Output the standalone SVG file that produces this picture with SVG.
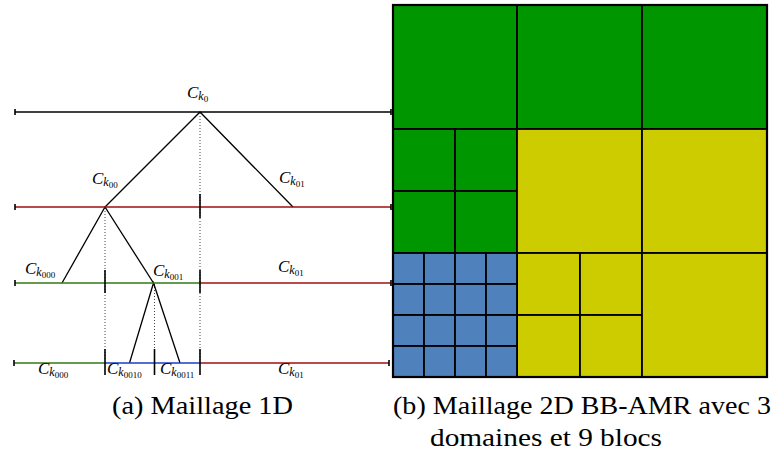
<svg xmlns="http://www.w3.org/2000/svg" width="772" height="457" viewBox="0 0 772 457">
<style>
.blk{stroke:#000;stroke-width:1.3;fill:none}
.red{stroke:#a30d0d;stroke-width:1.6;fill:none}
.grn{stroke:#337a14;stroke-width:1.6;fill:none}
.blu{stroke:#1a3fc8;stroke-width:1.6;fill:none}
.tick{stroke:#000;stroke-width:1.6}
.dot{stroke:#444;stroke-width:1;stroke-dasharray:1 2;fill:none}
.lbl{font-family:"Liberation Serif",serif;font-style:italic;font-size:17px;fill:#000}
.s1{font-size:12px}
.s2{font-size:9px;font-style:normal}
.cap{font-family:"Liberation Serif",serif;font-size:25px;fill:#000}
.cell{stroke:#000;stroke-width:1.8}
.g{fill:#009600}
.y{fill:#cccc00}
.b{fill:#4f81bd}
</style>

<g id="connectors">
  <line class="dot" x1="200" y1="113" x2="200" y2="360"/>
  <line class="dot" x1="105" y1="208" x2="105" y2="360"/>
  <line class="dot" x1="154.5" y1="284" x2="154.5" y2="360"/>
  <polyline class="blk" points="105,207 200,112 293,207"/>
  <polyline class="blk" points="62,283 105,207 153.5,283"/>
  <polyline class="blk" points="129.5,363 153.5,283 180,363"/>
</g>

<g id="row1">
  <line class="blk" x1="15" y1="112" x2="391" y2="112"/>
  <line class="tick" x1="15" y1="109" x2="15" y2="115"/>
  <line class="tick" x1="391" y1="109" x2="391" y2="115"/>
</g>
<g id="row2">
  <line class="red" x1="15" y1="207" x2="391" y2="207"/>
  <line class="tick" x1="15" y1="204" x2="15" y2="210"/>
  <line class="tick" x1="391" y1="204" x2="391" y2="210"/>
  <line class="tick" x1="200" y1="194" x2="200" y2="218"/>
</g>
<g id="row3">
  <line class="grn" x1="15" y1="283" x2="200" y2="283"/>
  <line class="red" x1="200" y1="283" x2="391" y2="283"/>
  <line class="tick" x1="15" y1="280" x2="15" y2="286"/>
  <line class="tick" x1="391" y1="280" x2="391" y2="286"/>
  <line class="tick" x1="105" y1="270" x2="105" y2="293"/>
  <line class="tick" x1="200" y1="270" x2="200" y2="293"/>
</g>
<g id="row4">
  <line class="grn" x1="14" y1="363" x2="105" y2="363"/>
  <line class="blu" x1="105" y1="363" x2="200" y2="363"/>
  <line class="red" x1="200" y1="363" x2="389" y2="363"/>
  <line class="tick" x1="14" y1="360" x2="14" y2="366"/>
  <line class="tick" x1="389" y1="360" x2="389" y2="366"/>
  <line class="tick" x1="105" y1="349" x2="105" y2="375"/>
  <line class="tick" x1="154.5" y1="349" x2="154.5" y2="375"/>
  <line class="tick" x1="200" y1="349" x2="200" y2="375"/>
</g>

<g id="labels">
  <text class="lbl" x="187" y="98">C<tspan class="s1" dy="2">k</tspan><tspan class="s2" dy="2">0</tspan></text>
  <text class="lbl" x="92" y="184">C<tspan class="s1" dy="2">k</tspan><tspan class="s2" dy="2">00</tspan></text>
  <text class="lbl" x="279" y="183">C<tspan class="s1" dy="2">k</tspan><tspan class="s2" dy="2">01</tspan></text>
  <text class="lbl" x="25" y="274">C<tspan class="s1" dy="2">k</tspan><tspan class="s2" dy="2">000</tspan></text>
  <text class="lbl" x="153" y="276">C<tspan class="s1" dy="2">k</tspan><tspan class="s2" dy="2">001</tspan></text>
  <text class="lbl" x="278" y="272">C<tspan class="s1" dy="2">k</tspan><tspan class="s2" dy="2">01</tspan></text>
  <text class="lbl" x="38" y="374">C<tspan class="s1" dy="2">k</tspan><tspan class="s2" dy="2">000</tspan></text>
  <text class="lbl" x="107" y="374">C<tspan class="s1" dy="2">k</tspan><tspan class="s2" dy="2">0010</tspan></text>
  <text class="lbl" x="160" y="374">C<tspan class="s1" dy="2">k</tspan><tspan class="s2" dy="2">0011</tspan></text>
  <text class="lbl" x="278" y="374">C<tspan class="s1" dy="2">k</tspan><tspan class="s2" dy="2">01</tspan></text>
</g>

<g id="grid">
  <rect class="cell g" x="393" y="5" width="124" height="124"/>
  <rect class="cell g" x="517" y="5" width="125" height="124"/>
  <rect class="cell g" x="642" y="5" width="125" height="124"/>
  <rect class="cell g" x="393" y="129" width="62" height="62"/>
  <rect class="cell g" x="455" y="129" width="62" height="62"/>
  <rect class="cell g" x="393" y="191" width="62" height="62"/>
  <rect class="cell g" x="455" y="191" width="62" height="62"/>
  <rect class="cell y" x="517" y="129" width="125" height="124"/>
  <rect class="cell y" x="642" y="129" width="125" height="124"/>
  <rect class="cell y" x="517" y="253" width="63" height="62"/>
  <rect class="cell y" x="580" y="253" width="62" height="62"/>
  <rect class="cell y" x="517" y="315" width="63" height="62"/>
  <rect class="cell y" x="580" y="315" width="62" height="62"/>
  <rect class="cell y" x="642" y="253" width="125" height="124"/>
  <rect class="cell b" x="393" y="253" width="31" height="31"/>
  <rect class="cell b" x="424" y="253" width="31" height="31"/>
  <rect class="cell b" x="455" y="253" width="31" height="31"/>
  <rect class="cell b" x="486" y="253" width="31" height="31"/>
  <rect class="cell b" x="393" y="284" width="31" height="31"/>
  <rect class="cell b" x="424" y="284" width="31" height="31"/>
  <rect class="cell b" x="455" y="284" width="31" height="31"/>
  <rect class="cell b" x="486" y="284" width="31" height="31"/>
  <rect class="cell b" x="393" y="315" width="31" height="31"/>
  <rect class="cell b" x="424" y="315" width="31" height="31"/>
  <rect class="cell b" x="455" y="315" width="31" height="31"/>
  <rect class="cell b" x="486" y="315" width="31" height="31"/>
  <rect class="cell b" x="393" y="346" width="31" height="31"/>
  <rect class="cell b" x="424" y="346" width="31" height="31"/>
  <rect class="cell b" x="455" y="346" width="31" height="31"/>
  <rect class="cell b" x="486" y="346" width="31" height="31"/>
  <rect x="393" y="5" width="374" height="372" fill="none" stroke="#000" stroke-width="2.2"/>
</g>

<g id="captions">
  <text class="cap" x="112" y="414" textLength="181" lengthAdjust="spacingAndGlyphs">(a) Maillage 1D</text>
  <text class="cap" x="393" y="414" textLength="378" lengthAdjust="spacingAndGlyphs">(b) Maillage 2D BB-AMR avec 3</text>
  <text class="cap" x="430" y="446" textLength="232" lengthAdjust="spacingAndGlyphs">domaines et 9 blocs</text>
</g>
</svg>
